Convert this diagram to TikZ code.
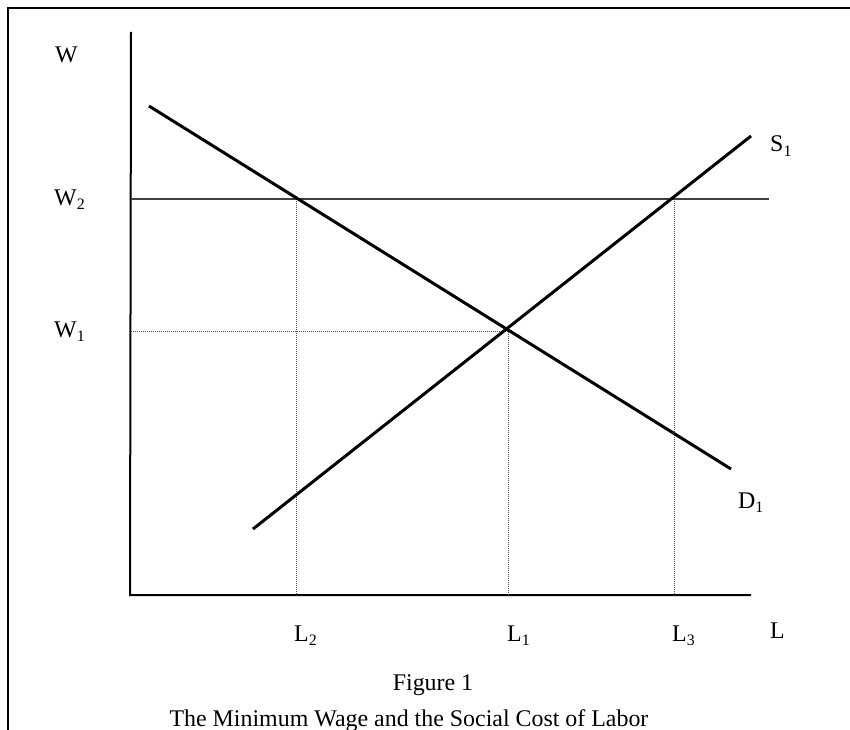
\documentclass[tikz,border=0pt]{standalone}
\usepackage{fontspec}
\setmainfont{Liberation Serif}
\newcommand{\lowsub}[1]{\raisebox{-4.5bp}{\fontsize{16}{18}\selectfont #1}}
\begin{document}
\begin{tikzpicture}[x=1bp,y=-1bp,
  lbl/.style={font=\fontsize{24}{28}\selectfont, inner sep=0pt, anchor=base west},
  captext/.style={font=\fontsize{24}{28}\selectfont, inner sep=0pt, anchor=base},
  curve/.style={line width=3bp, black},
  axis/.style={line width=2bp, black},
  guide/.style={line width=1bp, black!70, dash pattern=on 1bp off 1bp},
  minwage/.style={line width=1.6bp, black!75}]
\useasboundingbox (0,0) rectangle (850,730);
\draw[line width=2.2bp] (8,740) -- (8,8) -- (860,8);
% axes
\coordinate (ytop) at (131,32);
\coordinate (O) at (130,595);
\coordinate (xend) at (751,595);
\draw[axis] (ytop) -- (O) -- (xend);
% key points
\coordinate (w2a) at (131,199);
\coordinate (w2b) at (769,199);
\coordinate (w1a) at (131,331);
\coordinate (E1) at (508,331);
\coordinate (E2) at (296,199);
\coordinate (E3) at (674,199);
\coordinate (b1) at (508,595);
\coordinate (b2) at (296,595);
\coordinate (b3) at (674,595);
% guides
\draw[guide] (w1a) -- (E1) -- (b1);
\draw[guide] (E2) -- (b2);
\draw[guide] (E3) -- (b3);
\draw[minwage] (w2a) -- (w2b);
% curves
\coordinate (d0) at (149,106);
\coordinate (d1) at (731,469);
\coordinate (s0) at (253,529);
\coordinate (s1) at (751,136);
\draw[curve] (d0) -- (d1);
\draw[curve] (s0) -- (s1);
% labels
\node[lbl] (W) at (55,63) {W};
\node[lbl] (W2) at (54,205) {W\lowsub{2}};
\node[lbl] (W1) at (54,337) {W\lowsub{1}};
\node[lbl] (S1) at (770,152) {S\lowsub{1}};
\node[lbl] (D1) at (738,508) {D\lowsub{1}};
\node[lbl] (L2) at (294,641) {L\lowsub{2}};
\node[lbl] (L1) at (507,641) {L\lowsub{1}};
\node[lbl] (L3) at (672,641) {L\lowsub{3}};
\node[lbl] (L) at (770,638) {L};
\node[captext] (fig) at (433,690) {Figure 1};
\node[captext] (title) at (409,726) {The Minimum Wage and the Social Cost of Labor};
\end{tikzpicture}
\end{document}
